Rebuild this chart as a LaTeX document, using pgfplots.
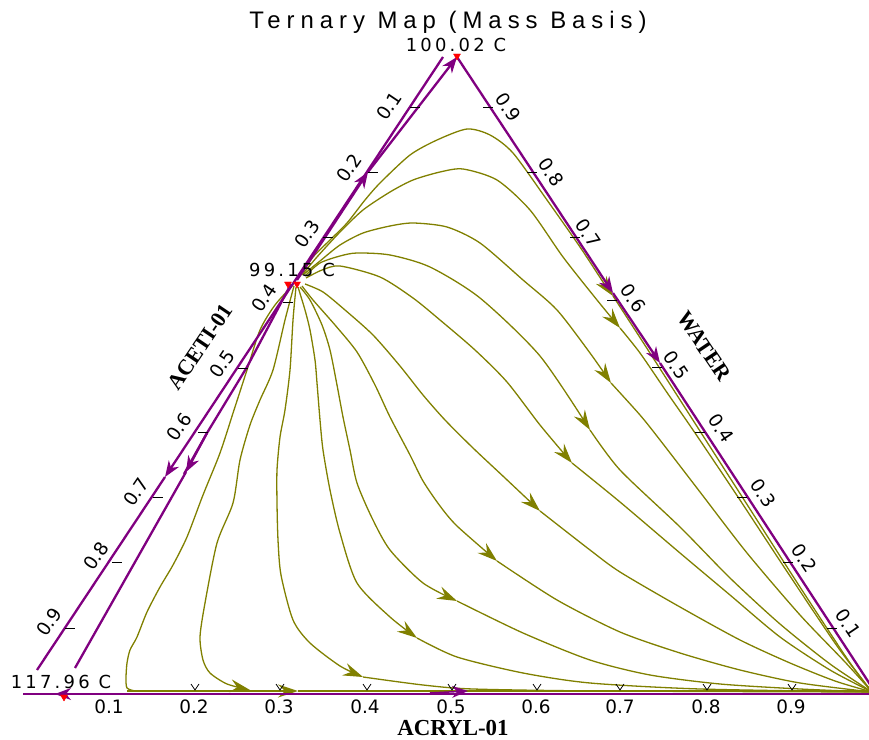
\documentclass[border=0pt]{standalone}
\usepackage{fontspec}
\setmainfont{DejaVu Sans}
\newfontfamily\spfont[LetterSpace=18]{DejaVu Sans}
\newfontfamily\titlefont[LetterSpace=25]{Liberation Sans}
\newfontfamily\namefont{Liberation Serif}
\usepackage{pgfplots}
\pgfplotsset{compat=1.18}
\usetikzlibrary{arrows.meta}
\definecolor{cpurple}{RGB}{128,0,128}
\definecolor{colive}{RGB}{128,128,0}
\pgfplotsset{
  oline/.style={colive, line width=1.3bp, smooth, tension=0.45},
  pline/.style={cpurple, line width=2.3bp},
  oarr/.style={-{Stealth[length=20bp,width=13bp,inset=7bp]}},
  parr/.style={-{Stealth[length=16bp,width=12bp,inset=5bp]}},
}
\tikzset{tl/.style={font=\fontsize{18.5}{18.5}\selectfont, inner sep=0pt}}
\begin{document}
\begin{tikzpicture}
\begin{axis}[width=869bp,height=740bp,scale only axis,
  xmin=0,xmax=869,ymin=0,ymax=740,y dir=reverse,
  hide axis,clip=false,unbounded coords=jump]

% ---------- olive residue curves ----------
% U1
\addplot[oline,oarr] coordinates {(300,276) (313,257) (330,240) (347,223) (365,200) (380,183) (410,155) (437,140) (467,129) (490,135) (513,153) (547,200) (580,247) (603,282) (613,296)};
\addplot[oline] coordinates {(613,296) (648,350) (698,428) (748,506) (798,584) (848,660) (872,692)};
% U2
\addplot[oline,oarr] coordinates {(302,275) (317,257) (340,232) (363,210) (390,192) (413,180) (440,172) (463,169) (497,180) (530,210) (563,257) (597,300) (620,328)};
\addplot[oline] coordinates {(620,328) (640,353) (668,394) (693,430) (736,494) (786,570) (837,646) (872,692)};
% U3
\addplot[oline,oarr] coordinates {(304,274) (320,261) (340,245) (363,233) (390,226) (413,223) (447,227) (480,243) (523,280) (557,310) (590,353) (611,383)};
\addplot[oline] coordinates {(611,383) (640,415) (660,440) (700,492) (747,553) (800,615) (845,662) (872,692)};
% U4
\addplot[oline,oarr] coordinates {(305,276) (320,263) (340,256) (357,253) (390,255) (430,267) (480,298) (540,356) (590,430)};
\addplot[oline] coordinates {(590,430) (620,470) (680,527) (730,578) (780,624) (830,664) (872,692)};
% U5
\addplot[oline,oarr] coordinates {(306,278) (322,270) (340,266) (380,277) (413,298) (440,320) (475,350) (507,382) (540,425) (572,463)};
\addplot[oline] coordinates {(572,463) (620,502) (680,553) (730,595) (780,637) (830,670) (872,692)};
% U6
\addplot[oline,oarr] coordinates {(305,284) (323,292) (345,310) (373,335) (400,366) (423,395) (445,420) (473,448) (505,478) (540,511)};
\addplot[oline] coordinates {(540,511) (590,550) (620,572) (680,607) (740,640) (790,663) (835,681) (872,692)};
% L6
\addplot[oline,oarr] coordinates {(302,286) (313,300) (335,325) (357,352) (375,385) (390,417) (410,455) (423,481) (440,506) (457,526) (497,561)};
\addplot[oline] coordinates {(497,561) (557,600) (620,632) (680,653) (740,670) (800,683) (872,692)};
% L5
\addplot[oline,oarr] coordinates {(300,287) (310,300) (322,325) (330,350) (337,385) (343,417) (350,450) (357,483) (372,518) (390,550) (423,583) (457,601)};
\addplot[oline] coordinates {(457,601) (523,633) (590,660) (650,675) (720,684) (800,689) (872,692)};
% L4
\addplot[oline,oarr] coordinates {(298,287) (305,310) (310,330) (315,360) (317,383) (320,420) (323,450) (330,490) (340,533) (357,583) (390,617) (417,638)};
\addplot[oline] coordinates {(417,638) (457,657) (523,673) (590,683) (700,689) (872,692)};
% L3
\addplot[oline,oarr] coordinates {(296,287) (293,320) (290,370) (285,410) (280,437) (277,470) (277,503) (278,540) (281,575) (293,620) (310,643) (340,666) (363,677)};
\addplot[oline] coordinates {(363,677) (423,685) (473,689) (600,691) (872,692)};
% L2
\addplot[oline,oarr] coordinates {(294,286) (285,320) (273,370) (260,400) (250,425) (240,460) (233,503) (217,543) (205,603) (200,637) (203,660) (210,673) (227,684) (250,690)};
% L1
\addplot[oline] coordinates {(293,285) (275,305) (260,330) (247,370) (234,410) (220,453) (203,495) (187,537) (173,565) (160,587) (147,612) (137,637) (130,650) (127,663) (126,678) (127,688) (135,691)};
% bottom olive
\addplot[colive, line width=2.4bp, oarr] coordinates {(127,691) (298,691)};
\addplot[colive, line width=2.4bp] coordinates {(298,691) (875,691)};

% ---------- purple lines ----------
\addplot[pline,parr] coordinates {(443,57) (165,477)};
\addplot[pline] coordinates {(165,477) (37,670)};
\addplot[pline] coordinates {(291,284) (247,367) (207,433) (184,474)};
\addplot[pline,parr] coordinates {(207,433) (186,472)};
\addplot[pline] coordinates {(186,472) (75,668)};
\addplot[pline,parr] coordinates {(297,280) (368,172)};
\addplot[pline,parr] coordinates {(368,172) (450,66) (457,57)};
\addplot[pline,parr] coordinates {(457,57) (613,293)};
\addplot[pline,parr] coordinates {(613,293) (660,363)};
\addplot[pline] coordinates {(660,363) (875,692)};
\addplot[cpurple, line width=1.5bp] coordinates {(23,694) (875,694)};
\addplot[cpurple, line width=1.5bp, parr] coordinates {(110,694) (55,694)};
\addplot[cpurple, line width=1.5bp, parr] coordinates {(430,693) (468,691)};

% ---------- red markers ----------
\addplot[only marks, mark=triangle*, mark size=4bp, mark options={rotate=180, fill=red, draw=red}] coordinates {(457,56) (288,284) (297,284) (64,697)};

% ---------- ticks ----------
\addplot[black, line width=0.8bp] coordinates {
 (65,628) (75,628) (nan,nan) (112,562) (122,562) (nan,nan) (153,497) (163,497) (nan,nan)
 (198,432) (208,432) (nan,nan) (238,368) (248,368) (nan,nan) (283,302) (293,302) (nan,nan)
 (323,237) (333,237) (nan,nan) (368,172) (378,172) (nan,nan) (410,107) (420,107)};
\addplot[black, line width=0.8bp] coordinates {
 (483,107) (493,107) (nan,nan) (527,172) (537,172) (nan,nan) (570,237) (580,237) (nan,nan)
 (607,300) (617,300) (nan,nan) (652,367) (662,367) (nan,nan) (695,432) (705,432) (nan,nan)
 (737,497) (747,497) (nan,nan) (783,562) (793,562) (nan,nan) (827,628) (837,628)};
\addplot[black, line width=0.8bp] coordinates {
 (191,684) (195,690) (199,684) (nan,nan) (276,684) (280,690) (284,684) (nan,nan)
 (363,684) (367,690) (371,684) (nan,nan) (448,684) (452,690) (456,684) (nan,nan)
 (533,684) (537,690) (541,684) (nan,nan) (616,684) (620,690) (624,684) (nan,nan)
 (703,684) (707,690) (711,684) (nan,nan) (788,684) (792,690) (796,684)};

% ---------- tick labels ----------
\node[tl] at (axis cs:109,707) {0.1};
\node[tl] at (axis cs:194,707) {0.2};
\node[tl] at (axis cs:279,707) {0.3};
\node[tl] at (axis cs:365,707) {0.4};
\node[tl] at (axis cs:451,707) {0.5};
\node[tl] at (axis cs:536,707) {0.6};
\node[tl] at (axis cs:620,707) {0.7};
\node[tl] at (axis cs:706,707) {0.8};
\node[tl] at (axis cs:791,707) {0.9};

\node[tl,rotate=56] at (axis cs:49,622) {0.9};
\node[tl,rotate=56] at (axis cs:96,556) {0.8};
\node[tl,rotate=56] at (axis cs:136,492) {0.7};
\node[tl,rotate=56] at (axis cs:179,427) {0.6};
\node[tl,rotate=56] at (axis cs:222,364) {0.5};
\node[tl,rotate=56] at (axis cs:264,298) {0.4};
\node[tl,rotate=56] at (axis cs:307,234) {0.3};
\node[tl,rotate=56] at (axis cs:349,168) {0.2};
\node[tl,rotate=56] at (axis cs:389,106) {0.1};

\node[tl,rotate=-56] at (axis cs:508,107) {0.9};
\node[tl,rotate=-56] at (axis cs:551,172) {0.8};
\node[tl,rotate=-56] at (axis cs:588,233) {0.7};
\node[tl,rotate=-56] at (axis cs:633,298) {0.6};
\node[tl,rotate=-56] at (axis cs:676,365) {0.5};
\node[tl,rotate=-56] at (axis cs:721,428) {0.4};
\node[tl,rotate=-56] at (axis cs:763,493) {0.3};
\node[tl,rotate=-56] at (axis cs:804,558) {0.2};
\node[tl,rotate=-56] at (axis cs:848,623) {0.1};

% ---------- temperatures, names, title ----------
\node[font=\spfont\fontsize{18}{18}\selectfont, inner sep=0pt] at (axis cs:456,45) {100.02 C};
\node[font=\spfont\fontsize{18}{18}\selectfont, inner sep=0pt] at (axis cs:292,270) {99.15 C};
\node[font=\spfont\fontsize{18}{18}\selectfont, inner sep=0pt] at (axis cs:61,682) {117.96 C};
\node[font=\namefont\bfseries\fontsize{23}{23}\selectfont, inner sep=0pt] at (axis cs:453,728) {ACRYL-01};
\node[font=\namefont\bfseries\fontsize{22}{22}\selectfont, inner sep=0pt, rotate=56] at (axis cs:200,347) {ACETI-01};
\node[font=\namefont\bfseries\fontsize{22}{22}\selectfont, inner sep=0pt, rotate=-56] at (axis cs:704,346) {WATER};
\node[font=\titlefont\fontsize{24}{24}\selectfont, inner sep=0pt] at (axis cs:448,22) {Ternary Map (Mass Basis)};

\coordinate (LL) at (axis cs:0,740);
\coordinate (UR) at (axis cs:869,0);
\end{axis}
\pgfresetboundingbox
\path[use as bounding box] (LL) rectangle (UR);
\end{tikzpicture}
\end{document}
